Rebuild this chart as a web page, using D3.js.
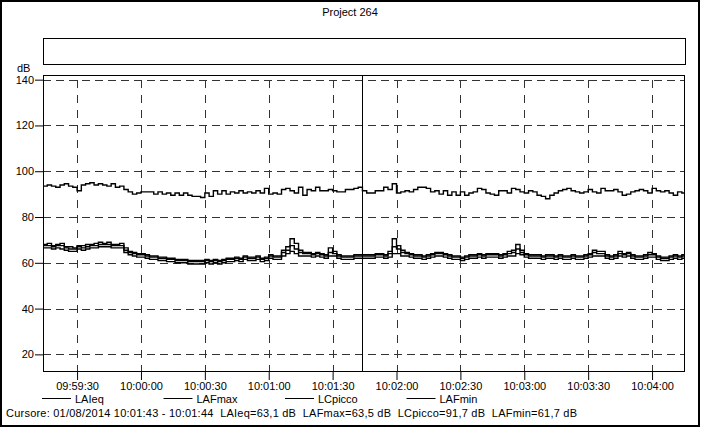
<!DOCTYPE html>
<html><head><meta charset="utf-8">
<script src="https://cdn.jsdelivr.net/npm/d3@7"></script>
<style>
body{margin:0;background:#fff}
svg{display:block}
text{font-family:"Liberation Sans",Arial,Helvetica,sans-serif;font-size:11px;fill:#000}
</style>
</head><body>
<svg id="chart" width="701" height="428"></svg>
<script>
// ---------------- data ----------------
const chartTitle = "Project 264";
const yUnit = "dB";
const seriesNames = ["LAIeq", "LAFmax", "LCpicco", "LAFmin"];
const yTickValues = [20, 40, 60, 80, 100, 120, 140];
const xTickLabels = ["09:59:30","10:00:00","10:00:30","10:01:00","10:01:30","10:02:00","10:02:30","10:03:00","10:03:30","10:04:00"];
const xDomainLabels = ["09:59:14", "10:04:15"];
const yDomain = [12.3, 141.6];
const sampleStart = "09:59:14";
const sampleStepSeconds = 2;
const cursorTime = "10:01:44";
const cursorText = "Cursore: 01/08/2014 10:01:43 - 10:01:44  LAIeq=63,1 dB  LAFmax=63,5 dB  LCpicco=91,7 dB  LAFmin=61,7 dB";

const LCpicco = [
 93.5,94,93.5,93,94,94.5,93.5,93,91.5,94,94.5,95,94,94.5,94,93.5,94.5,93,93.5,92,
 91,90,90.5,91,91,91,90,91,90,90.5,89.5,90.5,89.5,90.5,89.5,89,89,88.5,90.5,89,
 91.5,90,91.5,90,91,90.5,91.5,90.5,91,90.5,91.5,90.5,92.5,90,90.5,90,92,92.5,91.5,90.5,
 93,89.5,92,91.5,93,91.5,91.5,92,91.5,91,91,92,92,92.5,93,91.5,90.5,90.5,91.5,91.5,
 93,92,94.5,90.5,91,91.5,91,92,93,93,92.5,91,91.5,90,91.5,89.5,91,89.5,91,89.5,
 90.5,91,92.5,92,90.5,90,89.5,91.5,91.5,90.5,92.5,92,91,90.5,91.5,91,89.5,89,88,89.5,
 90.5,91.5,92,92.5,91.5,91,90.5,91,92,91,90.5,92.5,91.5,91.5,92,91,89.5,90,91,91.5,
 92,91.5,90.5,92.5,91.5,91,91.5,90.5,89.5,91,90.5
];
const LAIeq = [
 67.5,67.5,67,67.5,67.5,66.5,66,66,67,66.5,67,67.5,67.5,68,68,68,67.5,67.5,67.5,65.5,
 64.5,64,63.5,63.5,63,62.5,62.5,62,62,61.5,61.5,61,61,61,60.5,60.5,60.5,60.5,61,60.5,
 61,60.5,61,61.5,61.5,62,61.5,62.5,62,62,62.5,61.5,62,63,62.5,62.5,64.5,65.5,67.5,66,
 64.5,64,64,63.5,64,63.5,63,64.5,64,63,62.5,62.5,62.5,63,63,63,63,63,63.5,63.5,
 63,64,67,66,64.5,64,63.5,63,63,62.5,63,63.5,64,64,63.5,63,62.5,62.5,62,62.5,
 63,63,63.5,63,63.5,63.5,63.5,63,63.5,64,64.5,66,64.5,63.5,63,63,63,62.5,63,63,
 62.5,63,62.5,62.5,63,62.5,62.5,63,63.5,64.5,64,64,63,62.5,63,64,63.5,64,63,62.5,
 62.5,63,63.5,63.5,62.5,62,62,62.5,63,62.5,63
];
const LAFmax = [
 68,68.5,67.5,68,68.5,67,67,66.5,67.5,67.5,68,68,68.5,69,68.5,69,68,68,68.5,66.5,
 65,64.5,64,64,63.5,63,63,62.5,62.5,62,62,61.5,61.5,61.5,61,61,61,61,61.5,61,
 61.5,61,61.5,62,62,62.5,62,63,62.5,62.5,63,62,62.5,63.5,63,63,65.5,67,70.5,68.5,
 65.5,64.5,64.5,64,64.5,64,63.5,66.5,65,63.5,63,63,63,63.5,63.5,63.5,63.5,63.5,64,64,
 63.5,65,70.5,67.5,65.5,64.5,64,63.5,63.5,63,63.5,64,64.5,64.5,64,63.5,63,63,62.5,63,
 63.5,63.5,64,63.5,64,64,64,63.5,64,65,65.5,68,65.5,64,63.5,63.5,63.5,63,63.5,63.5,
 63,63.5,63,63,63.5,63,63,63.5,64,65.5,65,65,63.5,63,63.5,65,64,64.5,63.5,63,
 63,63.5,64.5,64,63,62.5,62.5,63,63.5,63,63.5
];
const LAFmin = [
 66.5,66.5,66,66.5,66,65.5,65,65,66,65.5,66,66.5,66.5,67,67,67,66.5,66.5,66.5,64.5,
 63.5,63,62.5,62.5,62,61.5,61.5,61,61,60.5,60.5,60,60,60,59.5,59.5,59.5,59.5,60,59.5,
 60,59.5,60,60.5,60.5,61,60.5,61.5,61,61,61.5,60.5,61,62,61.5,61.5,63,64,65,64,
 63,63,63,62.5,63,62.5,62,63,63,62,61.5,61.5,61.5,62,62,62,62,62,62.5,62.5,
 62,62.5,64,64,63,63,62.5,62,62,61.5,62,62.5,63,63,62.5,62,61.5,61.5,61,61.5,
 62,62,62.5,62,62.5,62.5,62.5,62,62.5,63,63,64,63.5,62.5,62,62,62,61.5,62,62,
 61.5,62,61.5,61.5,62,61.5,61.5,62,62.5,63,63,63,62,61.5,62,63,62.5,63,62,61.5,
 61.5,62,62.5,62.5,61.5,61,61,61.5,62,61.5,62
];

// ---------------- drawing ----------------
const svg = d3.select("#chart");
const parseT = d3.timeParse("%H:%M:%S");
const fmtT = d3.timeFormat("%H:%M:%S");
const plot = {left: 43, right: 684, top: 76, bottom: 372};

const x = d3.scaleTime().domain(xDomainLabels.map(parseT)).range([plot.left, plot.right]);
const y = d3.scaleLinear().domain(yDomain).range([plot.bottom, plot.top]);

const t0 = parseT(sampleStart);
const timeAt = i => new Date(t0.getTime() + i * sampleStepSeconds * 1000);

// outer frame
svg.append("rect").attr("x", 1).attr("y", 1).attr("width", 698).attr("height", 425)
  .attr("fill", "none").attr("stroke", "#000").attr("stroke-width", 2);

// title
svg.append("text").attr("x", 350).attr("y", 16).attr("text-anchor", "middle").text(chartTitle);

// empty header box
svg.append("rect").attr("x", 43.5).attr("y", 38.5).attr("width", 642).attr("height", 26)
  .attr("fill", "none").attr("stroke", "#000").attr("stroke-width", 1);

// unit label
svg.append("text").attr("x", 17).attr("y", 72).text(yUnit);

// clip
svg.append("clipPath").attr("id", "clip").append("rect")
  .attr("x", plot.left).attr("y", plot.top).attr("width", plot.right - plot.left).attr("height", plot.bottom - plot.top);

// y axis (ticks + labels) and horizontal grid
const yAxis = d3.axisLeft(y).tickValues(yTickValues).tickSize(8).tickPadding(1).tickFormat(d3.format("d"));
const gy = svg.append("g").attr("transform", `translate(${plot.left},0)`).call(yAxis);
gy.select(".domain").remove();
gy.selectAll("line").attr("stroke", "#000");
gy.selectAll("text").style("font-family", '"Liberation Sans",Arial,sans-serif').style("font-size", "11px").attr("fill", "#000");

svg.append("g").selectAll("line").data(yTickValues).join("line")
  .attr("x1", plot.left).attr("x2", plot.right)
  .attr("y1", d => Math.round(y(d)) + 0.5).attr("y2", d => Math.round(y(d)) + 0.5)
  .attr("stroke", "#333").attr("stroke-width", 1).attr("stroke-dasharray", "8,5");

// x axis (ticks + labels) and vertical grid
const xTicks = xTickLabels.map(parseT);
const xAxis = d3.axisBottom(x).tickValues(xTicks).tickSize(8).tickPadding(2).tickFormat(fmtT);
const gx = svg.append("g").attr("transform", `translate(0,${plot.bottom})`).call(xAxis);
gx.select(".domain").remove();
gx.selectAll("line").attr("stroke", "#000");
gx.selectAll("text").style("font-family", '"Liberation Sans",Arial,sans-serif').style("font-size", "11px").attr("fill", "#000");

svg.append("g").selectAll("line").data(xTicks).join("line")
  .attr("x1", d => Math.round(x(d)) + 0.5).attr("x2", d => Math.round(x(d)) + 0.5)
  .attr("y1", Math.round(y(140))).attr("y2", plot.bottom)
  .attr("stroke", "#333").attr("stroke-width", 1).attr("stroke-dasharray", "8,7");

// series
const seriesData = [LAIeq, LAFmax, LCpicco, LAFmin];
const line = d3.line().x((d, i) => x(timeAt(i))).y(d => y(d)).curve(d3.curveStepAfter);
svg.append("g").attr("clip-path", "url(#clip)").selectAll("path").data(seriesData).join("path")
  .attr("d", d => line(d.concat([d[d.length - 1]])))
  .attr("fill", "none").attr("stroke", "#000").attr("stroke-width", 1.4).attr("stroke-linejoin", "miter");

// cursor line
svg.append("line").attr("x1", Math.round(x(parseT(cursorTime))) + 0.5).attr("x2", Math.round(x(parseT(cursorTime))) + 0.5)
  .attr("y1", plot.top).attr("y2", plot.bottom).attr("stroke", "#000").attr("stroke-width", 1);

// plot frame
svg.append("rect").attr("x", plot.left + 0.5).attr("y", plot.top - 0.5)
  .attr("width", plot.right - plot.left).attr("height", plot.bottom - plot.top)
  .attr("fill", "none").attr("stroke", "#000").attr("stroke-width", 1);

// legend
const lg = svg.append("g").selectAll("g").data(seriesNames).join("g")
  .attr("transform", (d, i) => `translate(${42 + i * 121.5},0)`);
lg.append("line").attr("x1", 0).attr("x2", 29).attr("y1", 398.5).attr("y2", 398.5).attr("stroke", "#000");
lg.append("text").attr("x", 33).attr("y", 403).text(d => d);

// cursor info
svg.append("text").attr("x", 6).attr("y", 417).attr("xml:space", "preserve").style("white-space", "pre")
  .attr("textLength", 571).attr("lengthAdjust", "spacing").text(cursorText);
</script>
</body></html>
